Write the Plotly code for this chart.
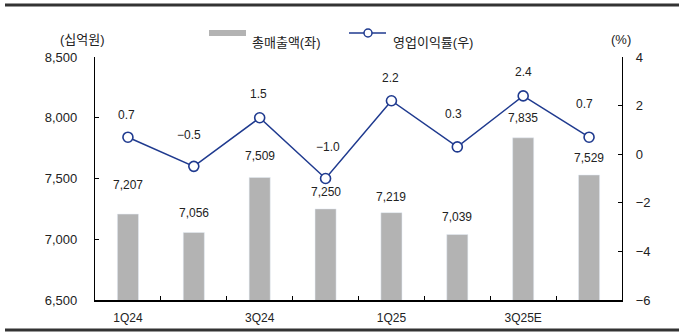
import plotly.graph_objects as go

categories = ["1Q24", "2Q24", "3Q24", "4Q24", "1Q25", "2Q25", "3Q25E", "4Q25E"]
sales = [7207, 7056, 7509, 7250, 7219, 7039, 7835, 7529]
margin = [0.7, -0.5, 1.5, -1.0, 2.2, 0.3, 2.4, 0.7]
tick_labels = ["1Q24", "", "3Q24", "", "1Q25", "", "3Q25E", ""]
left_ticks = [6500, 7000, 7500, 8000, 8500]
right_ticks = [-6, -4, -2, 0, 2, 4]

# styling
W, H = 692, 336
L, R, T, B = 95, 70, 57, 36
PW, PH = W - L - R, H - T - B
BAR_C = "#b3b3b3"
LINE_C = "#1f3a8f"
TXT = "#222222"
FONT = "Liberation Sans, Noto Sans CJK KR, sans-serif"
bar_dy = [20, 10, 12, 8, 7, 9, 11, 8]
line_dy = [13, 22, 15, 23, 14, 24, 15, 24]
line_dx = [-1, -5, -1, 2, -1, -4, 0, -5]


def px(x):
    return (x - L) / PW


def py(y):
    return (H - B - y) / PH


fig = go.Figure()
fig.add_trace(go.Bar(x=categories, y=sales, marker_color=BAR_C, width=0.32,
                     name="총매출액(좌)", showlegend=False))
fig.add_trace(go.Scatter(x=categories, y=margin, yaxis="y2", mode="lines+markers",
                         line=dict(color=LINE_C, width=1.5),
                         marker=dict(size=10, color="white", line=dict(color=LINE_C, width=1.6)),
                         name="영업이익률(우)", showlegend=False))

ann = []
for i, (c, v) in enumerate(zip(categories, sales)):
    ann.append(dict(x=c, y=v, xref="x", yref="y", text=f"{v:,}", showarrow=False,
                    yanchor="bottom", yshift=bar_dy[i], font=dict(size=12, color=TXT, family=FONT)))
for i, (c, v) in enumerate(zip(categories, margin)):
    ann.append(dict(x=c, y=v, xref="x", yref="y2", text=f"{v:.1f}".replace("-", "−"), showarrow=False,
                    yanchor="bottom", yshift=line_dy[i], xshift=line_dx[i],
                    font=dict(size=12, color=TXT, family=FONT)))

# axis unit titles
ann.append(dict(x=px(58), y=py(30), xref="paper", yref="paper", text="(십억원)", showarrow=False,
                font=dict(size=13, color=TXT, family=FONT)))
ann.append(dict(x=px(633), y=py(30), xref="paper", yref="paper", text="(%)", showarrow=False,
                font=dict(size=13, color=TXT, family=FONT)))
# legend texts
ann.append(dict(x=px(250), y=py(33), xref="paper", yref="paper", text="총매출액(좌)", showarrow=False,
                xanchor="left", font=dict(size=13, color=TXT, family=FONT)))
ann.append(dict(x=px(391), y=py(33), xref="paper", yref="paper", text="영업이익률(우)", showarrow=False,
                xanchor="left", font=dict(size=13, color=TXT, family=FONT)))

shapes = [
    dict(type="line", xref="paper", yref="paper", x0=px(5), x1=px(679), y0=py(5), y1=py(5),
         line=dict(color="#333333", width=3)),
    dict(type="line", xref="paper", yref="paper", x0=px(5), x1=px(679), y0=py(330), y1=py(330),
         line=dict(color="#333333", width=3)),
    dict(type="rect", xref="paper", yref="paper", x0=px(209), x1=px(246), y0=py(36), y1=py(30),
         fillcolor=BAR_C, line=dict(width=0)),
    dict(type="line", xref="paper", yref="paper", x0=px(349), x1=px(386), y0=py(33), y1=py(33),
         line=dict(color=LINE_C, width=1.5)),
    dict(type="circle", xref="paper", yref="paper", x0=px(364), x1=px(372), y0=py(37), y1=py(29),
         fillcolor="white", line=dict(color=LINE_C, width=1.5)),
]

fig.update_layout(
    width=W, height=H, margin=dict(l=L, r=R, t=T, b=B),
    paper_bgcolor="white", plot_bgcolor="white",
    font=dict(family=FONT, size=13, color=TXT),
    annotations=ann, shapes=shapes, showlegend=False, bargap=0.68,
    xaxis=dict(type="category", tickmode="array", tickvals=categories, ticktext=tick_labels,
               tickson="boundaries", ticks="inside", ticklen=4, tickcolor="black",
               showline=True, linecolor="black", linewidth=1.5, showgrid=False,
               tickfont=dict(size=12), range=[-0.5, 7.5], ticklabelstandoff=6),
    yaxis=dict(range=[6500, 8500], tickvals=left_ticks, tickformat=",", ticks="inside",
               ticklen=4, tickcolor="black", showline=True, linecolor="black", linewidth=1.2,
               showgrid=False, zeroline=False, tickfont=dict(size=13), ticklabelstandoff=14),
    yaxis2=dict(range=[-6, 4], tickvals=right_ticks, overlaying="y", side="right",
                ticks="inside", ticklen=4, tickcolor="black", showline=True, linecolor="black",
                linewidth=1.2, showgrid=False, zeroline=False, tickfont=dict(size=13),
                ticklabelstandoff=10),
)

fig.write_html("out.html")
